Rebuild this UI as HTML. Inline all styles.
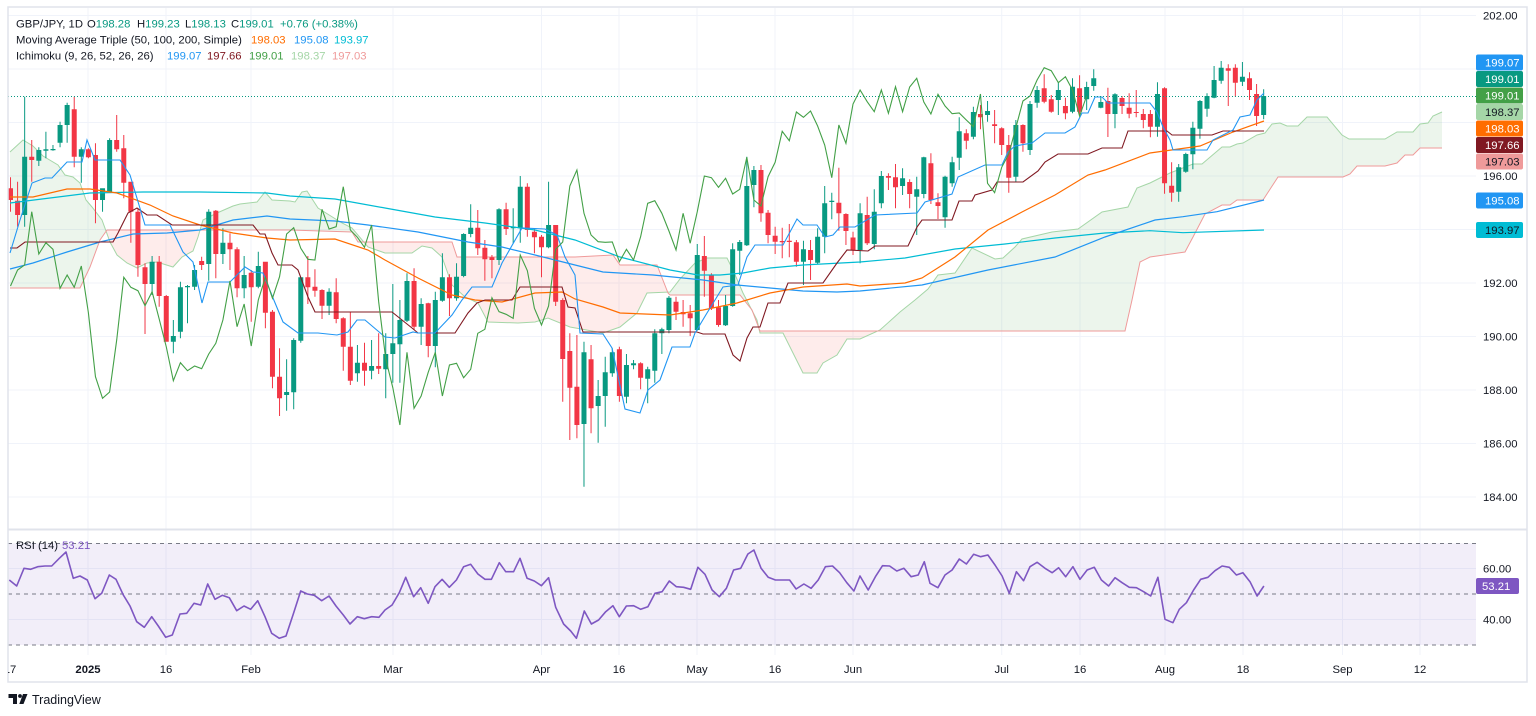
<!DOCTYPE html>
<html><head><meta charset="utf-8">
<style>
html,body{margin:0;padding:0;background:#fff;}
body{width:1536px;height:716px;overflow:hidden;}
svg{display:block;font-family:"Liberation Sans",Arial,sans-serif;}
.g{fill:#089981}.r{fill:#f23645}
</style></head><body>
<svg width="1536" height="716" viewBox="0 0 1536 716" xmlns="http://www.w3.org/2000/svg">
<defs>
<clipPath id="mainClip"><rect x="8" y="8" width="1468" height="521"/></clipPath>
<clipPath id="rsiClip"><rect x="8" y="530" width="1468" height="125"/></clipPath>
<clipPath id="axClip"><rect x="8" y="655" width="1468" height="27"/></clipPath>
<clipPath id="cB"><polygon points="10,288 80,288 90,267 100,240 107,230 290,230 352,232 358,242 452,242 457,257 575,257 613,255 620,265 657,265 668,293 670,295 740,295 752,310 760,331 1125,331 1132,300 1140,262 1150,257 1185,252 1193,237 1205,214 1222,205 1230,205 1237,200 1263,200 1278,177 1343,177 1350,174 1357,166 1385,166 1397,163 1405,155 1413,155 1420,148 1442,148 1442,0 10,0"/></clipPath>
<clipPath id="cA"><polygon points="10,152 23,140 33,146 43,156 58,165 65,175 73,177 80,183 86,200 92,207 102,220 110,242 117,255 127,263 137,268 147,263 157,262 173,267 182,257 193,251 198,237 203,220 217,213 233,206 240,204 257,202 265,192 272,200 290,201 295,202 302,192 307,191 318,208 342,223 352,228 368,247 385,253 412,253 422,246 432,248 442,257 452,285 465,297 478,303 488,322 518,323 535,322 548,318 570,327 603,333 620,327 637,313 647,293 670,292 680,279 695,263 707,258 727,258 733,270 743,293 757,320 760,333 783,333 803,373 817,373 823,363 837,355 847,339 860,339 880,330 900,312 915,300 928,289 938,275 955,273 972,248 995,259 1003,258 1015,247 1022,239 1052,232 1078,229 1102,212 1128,207 1137,188 1150,183 1170,173 1193,164 1202,164 1222,147 1230,147 1237,144 1243,143 1257,135 1265,133 1272,124 1280,123 1287,126 1298,126 1307,117 1327,117 1342,135 1349,139 1385,139 1397,132 1413,132 1420,124 1428,123 1433,116 1442,112 1442,0 10,0"/></clipPath>
</defs>
<rect x="0" y="0" width="1536" height="716" fill="#fff"/>

<!-- grid -->
<g stroke="#f0f3fa" stroke-width="1" fill="none">
<path d="M8 15.5H1476M8 69H1476M8 122.5H1476M8 176H1476M8 229.5H1476M8 283H1476M8 336.5H1476M8 390H1476M8 443.5H1476M8 497H1476"/>
<path d="M8 568.5H1476M8 619.5H1476"/>
<path d="M88 8V529M166 8V529M251 8V529M393 8V529M541.5 8V529M619 8V529M697 8V529M775 8V529M853 8V529M1001.7 8V529M1080 8V529M1165 8V529M1243 8V529M1342.5 8V529M1420 8V529"/>
<path d="M88 530V655M166 530V655M251 530V655M393 530V655M541.5 530V655M619 530V655M697 530V655M775 530V655M853 530V655M1001.7 530V655M1080 530V655M1165 530V655M1243 530V655M1342.5 530V655M1420 530V655"/>
</g>

<g clip-path="url(#mainClip)">
<!-- cloud -->
<polygon points="10,152 23,140 33,146 43,156 58,165 65,175 73,177 80,183 86,200 92,207 102,220 110,242 117,255 127,263 137,268 147,263 157,262 173,267 182,257 193,251 198,237 203,220 217,213 233,206 240,204 257,202 265,192 272,200 290,201 295,202 302,192 307,191 318,208 342,223 352,228 368,247 385,253 412,253 422,246 432,248 442,257 452,285 465,297 478,303 488,322 518,323 535,322 548,318 570,327 603,333 620,327 637,313 647,293 670,292 680,279 695,263 707,258 727,258 733,270 743,293 757,320 760,333 783,333 803,373 817,373 823,363 837,355 847,339 860,339 880,330 900,312 915,300 928,289 938,275 955,273 972,248 995,259 1003,258 1015,247 1022,239 1052,232 1078,229 1102,212 1128,207 1137,188 1150,183 1170,173 1193,164 1202,164 1222,147 1230,147 1237,144 1243,143 1257,135 1265,133 1272,124 1280,123 1287,126 1298,126 1307,117 1327,117 1342,135 1349,139 1385,139 1397,132 1413,132 1420,124 1428,123 1433,116 1442,112 1442,716 10,716" fill="rgba(67,160,71,0.1)" clip-path="url(#cB)"/>
<polygon points="10,288 80,288 90,267 100,240 107,230 290,230 352,232 358,242 452,242 457,257 575,257 613,255 620,265 657,265 668,293 670,295 740,295 752,310 760,331 1125,331 1132,300 1140,262 1150,257 1185,252 1193,237 1205,214 1222,205 1230,205 1237,200 1263,200 1278,177 1343,177 1350,174 1357,166 1385,166 1397,163 1405,155 1413,155 1420,148 1442,148 1442,716 10,716" fill="rgba(244,67,54,0.1)" clip-path="url(#cA)"/>
<polyline fill="none" stroke="#a5d6a7" stroke-width="1" points="10,152 23,140 33,146 43,156 58,165 65,175 73,177 80,183 86,200 92,207 102,220 110,242 117,255 127,263 137,268 147,263 157,262 173,267 182,257 193,251 198,237 203,220 217,213 233,206 240,204 257,202 265,192 272,200 290,201 295,202 302,192 307,191 318,208 342,223 352,228 368,247 385,253 412,253 422,246 432,248 442,257 452,285 465,297 478,303 488,322 518,323 535,322 548,318 570,327 603,333 620,327 637,313 647,293 670,292 680,279 695,263 707,258 727,258 733,270 743,293 757,320 760,333 783,333 803,373 817,373 823,363 837,355 847,339 860,339 880,330 900,312 915,300 928,289 938,275 955,273 972,248 995,259 1003,258 1015,247 1022,239 1052,232 1078,229 1102,212 1128,207 1137,188 1150,183 1170,173 1193,164 1202,164 1222,147 1230,147 1237,144 1243,143 1257,135 1265,133 1272,124 1280,123 1287,126 1298,126 1307,117 1327,117 1342,135 1349,139 1385,139 1397,132 1413,132 1420,124 1428,123 1433,116 1442,112"/>
<polyline fill="none" stroke="#ef9a9a" stroke-width="1" points="10,288 80,288 90,267 100,240 107,230 290,230 352,232 358,242 452,242 457,257 575,257 613,255 620,265 657,265 668,293 670,295 740,295 752,310 760,331 1125,331 1132,300 1140,262 1150,257 1185,252 1193,237 1205,214 1222,205 1230,205 1237,200 1263,200 1278,177 1343,177 1350,174 1357,166 1385,166 1397,163 1405,155 1413,155 1420,148 1442,148"/>

<!-- candles (index space) -->
<g transform="translate(10.5,0) scale(7.08,1)">
<path class="r" transform="translate(0)" d="M-.353 188.3H.353V200H-.353ZM-.07 177.3H.07V211.7H-.07Z"/>
<path class="r" transform="translate(1)" d="M-.353 200.7H.353V215H-.353ZM-.07 181.7H.07V226.7H-.07Z"/>
<path class="g" transform="translate(2)" d="M-.353 156.7H.353V215H-.353ZM-.07 96.7H.07V226.7H-.07Z"/>
<path class="r" transform="translate(3)" d="M-.353 156.7H.353V160H-.353ZM-.07 140H.07V181.7H-.07Z"/>
<path class="g" transform="translate(4)" d="M-.353 150H.353V160.7H-.353ZM-.07 147.3H.07V166H-.07Z"/>
<path class="g" transform="translate(5)" d="M-.353 149.3H.353V150.7H-.353ZM-.07 131.7H.07V158.3H-.07Z"/>
<path class="g" transform="translate(6)" d="M-.353 149H.353V150.2H-.353ZM-.07 145H.07V150.7H-.07Z"/>
<path class="g" transform="translate(7)" d="M-.353 125H.353V142.7H-.353ZM-.07 121.7H.07V147.3H-.07Z"/>
<path class="g" transform="translate(8)" d="M-.353 105H.353V125H-.353ZM-.07 102.7H.07V142.7H-.07Z"/>
<path class="r" transform="translate(9)" d="M-.353 109.3H.353V156.7H-.353ZM-.07 96.7H.07V167.3H-.07Z"/>
<path class="g" transform="translate(10)" d="M-.353 149.3H.353V156.7H-.353ZM-.07 147.3H.07V182.7H-.07Z"/>
<path class="r" transform="translate(11)" d="M-.353 149.3H.353V157.3H-.353ZM-.07 148.3H.07V158.3H-.07Z"/>
<path class="r" transform="translate(12)" d="M-.353 155H.353V200H-.353ZM-.07 143.3H.07V223.3H-.07Z"/>
<path class="g" transform="translate(13)" d="M-.353 188.3H.353V200H-.353ZM-.07 188.3H.07V211.7H-.07Z"/>
<path class="g" transform="translate(14)" d="M-.353 140H.353V192.7H-.353ZM-.07 138.3H.07V192.7H-.07Z"/>
<path class="r" transform="translate(15)" d="M-.353 140H.353V149.3H-.353ZM-.07 115H.07V151.7H-.07Z"/>
<path class="r" transform="translate(16)" d="M-.353 148.3H.353V182.7H-.353ZM-.07 135H.07V198.3H-.07Z"/>
<path class="r" transform="translate(17)" d="M-.353 181.7H.353V211.7H-.353ZM-.07 181.7H.07V242.7H-.07Z"/>
<path class="r" transform="translate(18)" d="M-.353 211.7H.353V265H-.353ZM-.07 208.3H.07V276.7H-.07Z"/>
<path class="r" transform="translate(19)" d="M-.353 267.3H.353V284H-.353ZM-.07 263.3H.07V334H-.07Z"/>
<path class="g" transform="translate(20)" d="M-.353 261.7H.353V284H-.353ZM-.07 256H.07V295H-.07Z"/>
<path class="r" transform="translate(21)" d="M-.353 261.7H.353V296H-.353ZM-.07 256H.07V306.7H-.07Z"/>
<path class="r" transform="translate(22)" d="M-.353 296H.353V341.7H-.353ZM-.07 295H.07V341.7H-.07Z"/>
<path class="g" transform="translate(23)" d="M-.353 336H.353V341.7H-.353ZM-.07 320H.07V353.3H-.07Z"/>
<path class="g" transform="translate(24)" d="M-.353 287.3H.353V331.7H-.353ZM-.07 281.7H.07V338.3H-.07Z"/>
<path class="g" transform="translate(25)" d="M-.353 286H.353V287.3H-.353ZM-.07 285H.07V323.3H-.07Z"/>
<path class="g" transform="translate(26)" d="M-.353 270H.353V286.7H-.353ZM-.07 265H.07V290H-.07Z"/>
<path class="r" transform="translate(27)" d="M-.353 261H.353V265H-.353ZM-.07 256.7H.07V270H-.07Z"/>
<path class="g" transform="translate(28)" d="M-.353 211.7H.353V264H-.353ZM-.07 209.3H.07V280.7H-.07Z"/>
<path class="r" transform="translate(29)" d="M-.353 210.7H.353V254H-.353ZM-.07 210H.07V278.3H-.07Z"/>
<path class="g" transform="translate(30)" d="M-.353 242.7H.353V254H-.353ZM-.07 228.3H.07V264H-.07Z"/>
<path class="r" transform="translate(31)" d="M-.353 242.7H.353V249.3H-.353ZM-.07 233.3H.07V270H-.07Z"/>
<path class="r" transform="translate(32)" d="M-.353 249.3H.353V288.3H-.353ZM-.07 247.3H.07V297.3H-.07Z"/>
<path class="g" transform="translate(33)" d="M-.353 275H.353V288.3H-.353ZM-.07 256H.07V298.3H-.07Z"/>
<path class="r" transform="translate(34)" d="M-.353 272.7H.353V287.3H-.353ZM-.07 270H.07V321.7H-.07Z"/>
<path class="g" transform="translate(35)" d="M-.353 266H.353V286.7H-.353ZM-.07 251.7H.07V288.3H-.07Z"/>
<path class="r" transform="translate(36)" d="M-.353 261.7H.353V312.7H-.353ZM-.07 261.7H.07V328.3H-.07Z"/>
<path class="r" transform="translate(37)" d="M-.353 311.7H.353V376.7H-.353ZM-.07 310H.07V388.3H-.07Z"/>
<path class="r" transform="translate(38)" d="M-.353 376.7H.353V398.3H-.353ZM-.07 348.3H.07V416H-.07Z"/>
<path class="g" transform="translate(39)" d="M-.353 392H.353V395H-.353ZM-.07 359.3H.07V410.7H-.07Z"/>
<path class="g" transform="translate(40)" d="M-.353 340H.353V392.3H-.353ZM-.07 338.3H.07V409.3H-.07Z"/>
<path class="g" transform="translate(41)" d="M-.353 277.3H.353V340.7H-.353ZM-.07 277.3H.07V342.7H-.07Z"/>
<path class="r" transform="translate(42)" d="M-.353 277.3H.353V287.3H-.353ZM-.07 256H.07V304H-.07Z"/>
<path class="r" transform="translate(43)" d="M-.353 286.7H.353V290.7H-.353ZM-.07 269.3H.07V296.7H-.07Z"/>
<path class="r" transform="translate(44)" d="M-.353 290H.353V305.7H-.353ZM-.07 289.3H.07V319H-.07Z"/>
<path class="g" transform="translate(45)" d="M-.353 291.7H.353V305.7H-.353ZM-.07 288.3H.07V315H-.07Z"/>
<path class="r" transform="translate(46)" d="M-.353 292.3H.353V319H-.353ZM-.07 278.3H.07V323.3H-.07Z"/>
<path class="r" transform="translate(47)" d="M-.353 318.3H.353V346.7H-.353ZM-.07 317.3H.07V370.7H-.07Z"/>
<path class="r" transform="translate(48)" d="M-.353 346.7H.353V380.7H-.353ZM-.07 311.7H.07V385H-.07Z"/>
<path class="g" transform="translate(49)" d="M-.353 362.7H.353V373.3H-.353ZM-.07 345H.07V381.7H-.07Z"/>
<path class="r" transform="translate(50)" d="M-.353 362.7H.353V370.7H-.353ZM-.07 342.7H.07V385.7H-.07Z"/>
<path class="g" transform="translate(51)" d="M-.353 366H.353V370.7H-.353ZM-.07 340H.07V379.3H-.07Z"/>
<path class="r" transform="translate(52)" d="M-.353 366H.353V368.7H-.353ZM-.07 333.3H.07V374H-.07Z"/>
<path class="g" transform="translate(53)" d="M-.353 354H.353V369.3H-.353ZM-.07 333.3H.07V398.3H-.07Z"/>
<path class="g" transform="translate(54)" d="M-.353 343.3H.353V354H-.353ZM-.07 284H.07V382.7H-.07Z"/>
<path class="g" transform="translate(55)" d="M-.353 320H.353V344.3H-.353ZM-.07 300H.07V382.7H-.07Z"/>
<path class="g" transform="translate(56)" d="M-.353 281H.353V320.7H-.353ZM-.07 273.3H.07V322H-.07Z"/>
<path class="r" transform="translate(57)" d="M-.353 281H.353V326.7H-.353ZM-.07 268.3H.07V330H-.07Z"/>
<path class="g" transform="translate(58)" d="M-.353 304H.353V326.7H-.353ZM-.07 298.3H.07V345H-.07Z"/>
<path class="r" transform="translate(59)" d="M-.353 303.3H.353V346H-.353ZM-.07 302.7H.07V357.3H-.07Z"/>
<path class="g" transform="translate(60)" d="M-.353 300H.353V346H-.353ZM-.07 291.7H.07V367.3H-.07Z"/>
<path class="g" transform="translate(61)" d="M-.353 277.3H.353V300.7H-.353ZM-.07 253.3H.07V301.7H-.07Z"/>
<path class="r" transform="translate(62)" d="M-.353 277.3H.353V298.3H-.353ZM-.07 274.3H.07V316H-.07Z"/>
<path class="g" transform="translate(63)" d="M-.353 276.7H.353V298.3H-.353ZM-.07 263.3H.07V300.7H-.07Z"/>
<path class="g" transform="translate(64)" d="M-.353 234H.353V276H-.353ZM-.07 233.3H.07V277.3H-.07Z"/>
<path class="g" transform="translate(65)" d="M-.353 227.7H.353V234H-.353ZM-.07 204.3H.07V237.3H-.07Z"/>
<path class="r" transform="translate(66)" d="M-.353 227.7H.353V248.3H-.353ZM-.07 210H.07V255H-.07Z"/>
<path class="r" transform="translate(67)" d="M-.353 247.7H.353V259.3H-.353ZM-.07 240H.07V280.7H-.07Z"/>
<path class="r" transform="translate(68)" d="M-.353 257.3H.353V260H-.353ZM-.07 255H.07V278.3H-.07Z"/>
<path class="g" transform="translate(69)" d="M-.353 209.3H.353V260H-.353ZM-.07 208.3H.07V265H-.07Z"/>
<path class="r" transform="translate(70)" d="M-.353 209.3H.353V229H-.353ZM-.07 202.7H.07V235H-.07Z"/>
<path class="g" transform="translate(71)" d="M-.353 226.7H.353V228.3H-.353ZM-.07 208.3H.07V243.3H-.07Z"/>
<path class="g" transform="translate(72)" d="M-.353 186.7H.353V228.3H-.353ZM-.07 176H.07V242.7H-.07Z"/>
<path class="r" transform="translate(73)" d="M-.353 186.7H.353V230H-.353ZM-.07 183.3H.07V236.7H-.07Z"/>
<path class="r" transform="translate(74)" d="M-.353 231.7H.353V237.3H-.353ZM-.07 228.3H.07V253.3H-.07Z"/>
<path class="r" transform="translate(75)" d="M-.353 236.7H.353V247.3H-.353ZM-.07 235H.07V277.3H-.07Z"/>
<path class="g" transform="translate(76)" d="M-.353 225H.353V247.3H-.353ZM-.07 181.7H.07V248.3H-.07Z"/>
<path class="r" transform="translate(77)" d="M-.353 225H.353V301.7H-.353ZM-.07 225H.07V306H-.07Z"/>
<path class="r" transform="translate(78)" d="M-.353 300H.353V359H-.353ZM-.07 298.3H.07V401.7H-.07Z"/>
<path class="r" transform="translate(79)" d="M-.353 351H.353V387.7H-.353ZM-.07 333.3H.07V440H-.07Z"/>
<path class="r" transform="translate(80)" d="M-.353 386.7H.353V425H-.353ZM-.07 335H.07V438.3H-.07Z"/>
<path class="g" transform="translate(81)" d="M-.353 352.3H.353V424H-.353ZM-.07 341.7H.07V486.7H-.07Z"/>
<path class="r" transform="translate(82)" d="M-.353 359.3H.353V408.3H-.353ZM-.07 345H.07V433.3H-.07Z"/>
<path class="g" transform="translate(83)" d="M-.353 396H.353V406H-.353ZM-.07 380H.07V442.7H-.07Z"/>
<path class="g" transform="translate(84)" d="M-.353 372.3H.353V396H-.353ZM-.07 356.7H.07V426.7H-.07Z"/>
<path class="g" transform="translate(85)" d="M-.353 352.3H.353V373.3H-.353ZM-.07 348.3H.07V376.7H-.07Z"/>
<path class="r" transform="translate(86)" d="M-.353 349.3H.353V396H-.353ZM-.07 346.7H.07V401.7H-.07Z"/>
<path class="g" transform="translate(87)" d="M-.353 365H.353V396.7H-.353ZM-.07 354H.07V403.3H-.07Z"/>
<path class="g" transform="translate(88)" d="M-.353 363.3H.353V365.3H-.353ZM-.07 360H.07V369.3H-.07Z"/>
<path class="r" transform="translate(89)" d="M-.353 363.3H.353V377.7H-.353ZM-.07 362.3H.07V389.3H-.07Z"/>
<path class="g" transform="translate(90)" d="M-.353 369.3H.353V378.7H-.353ZM-.07 366.7H.07V403.3H-.07Z"/>
<path class="g" transform="translate(91)" d="M-.353 333.3H.353V370.7H-.353ZM-.07 329.3H.07V382.7H-.07Z"/>
<path class="g" transform="translate(92)" d="M-.353 329.3H.353V333.3H-.353ZM-.07 327.7H.07V354H-.07Z"/>
<path class="g" transform="translate(93)" d="M-.353 297.7H.353V330H-.353ZM-.07 296H.07V333.3H-.07Z"/>
<path class="r" transform="translate(94)" d="M-.353 301.7H.353V311.7H-.353ZM-.07 296.7H.07V320H-.07Z"/>
<path class="r" transform="translate(95)" d="M-.353 312H.353V314.3H-.353ZM-.07 300H.07V326.7H-.07Z"/>
<path class="r" transform="translate(96)" d="M-.353 313.3H.353V318.3H-.353ZM-.07 305H.07V336H-.07Z"/>
<path class="g" transform="translate(97)" d="M-.353 255H.353V330H-.353ZM-.07 244H.07V330.7H-.07Z"/>
<path class="r" transform="translate(98)" d="M-.353 256H.353V270.7H-.353ZM-.07 236H.07V296.7H-.07Z"/>
<path class="r" transform="translate(99)" d="M-.353 275H.353V308.3H-.353ZM-.07 273.3H.07V310H-.07Z"/>
<path class="r" transform="translate(100)" d="M-.353 307.3H.353V325H-.353ZM-.07 300H.07V326.7H-.07Z"/>
<path class="g" transform="translate(101)" d="M-.353 306H.353V325.3H-.353ZM-.07 295H.07V326H-.07Z"/>
<path class="g" transform="translate(102)" d="M-.353 249.3H.353V306H-.353ZM-.07 243.3H.07V306.7H-.07Z"/>
<path class="g" transform="translate(103)" d="M-.353 242H.353V250.7H-.353ZM-.07 240H.07V275H-.07Z"/>
<path class="g" transform="translate(104)" d="M-.353 186H.353V245.3H-.353ZM-.07 156.7H.07V246H-.07Z"/>
<path class="g" transform="translate(105)" d="M-.353 170H.353V185H-.353ZM-.07 166H.07V207.3H-.07Z"/>
<path class="r" transform="translate(106)" d="M-.353 170H.353V213.3H-.353ZM-.07 165H.07V221.7H-.07Z"/>
<path class="r" transform="translate(107)" d="M-.353 212.7H.353V235H-.353ZM-.07 210H.07V243.3H-.07Z"/>
<path class="r" transform="translate(108)" d="M-.353 235.7H.353V241.7H-.353ZM-.07 226.7H.07V254H-.07Z"/>
<path class="r" transform="translate(109)" d="M-.353 241H.353V242.3H-.353ZM-.07 227.7H.07V258.3H-.07Z"/>
<path class="r" transform="translate(110)" d="M-.353 240.7H.353V242H-.353ZM-.07 224H.07V257.3H-.07Z"/>
<path class="r" transform="translate(111)" d="M-.353 242.3H.353V261.7H-.353ZM-.07 240H.07V266.7H-.07Z"/>
<path class="g" transform="translate(112)" d="M-.353 249.3H.353V261.7H-.353ZM-.07 240.7H.07V285H-.07Z"/>
<path class="r" transform="translate(113)" d="M-.353 250H.353V260H-.353ZM-.07 240H.07V280H-.07Z"/>
<path class="g" transform="translate(114)" d="M-.353 236.7H.353V262.7H-.353ZM-.07 228.3H.07V264.3H-.07Z"/>
<path class="g" transform="translate(115)" d="M-.353 203.3H.353V236.7H-.353ZM-.07 186H.07V253.3H-.07Z"/>
<path class="g" transform="translate(116)" d="M-.353 200.7H.353V202H-.353ZM-.07 192.7H.07V219.3H-.07Z"/>
<path class="r" transform="translate(117)" d="M-.353 202.7H.353V213.3H-.353ZM-.07 167.7H.07V230.7H-.07Z"/>
<path class="r" transform="translate(118)" d="M-.353 214H.353V231H-.353ZM-.07 213.3H.07V245H-.07Z"/>
<path class="r" transform="translate(119)" d="M-.353 237.5H.353V250H-.353ZM-.07 231.7H.07V255H-.07Z"/>
<path class="g" transform="translate(120)" d="M-.353 213.3H.353V250H-.353ZM-.07 203.3H.07V263.3H-.07Z"/>
<path class="r" transform="translate(121)" d="M-.353 215H.353V243.3H-.353ZM-.07 196.7H.07V245H-.07Z"/>
<path class="g" transform="translate(122)" d="M-.353 211.7H.353V244H-.353ZM-.07 189.3H.07V249.3H-.07Z"/>
<path class="g" transform="translate(123)" d="M-.353 176H.353V203.3H-.353ZM-.07 171H.07V208.3H-.07Z"/>
<path class="r" transform="translate(124)" d="M-.353 176H.353V177.7H-.353ZM-.07 173.3H.07V190H-.07Z"/>
<path class="r" transform="translate(125)" d="M-.353 177.3H.353V187.3H-.353ZM-.07 164H.07V208.3H-.07Z"/>
<path class="g" transform="translate(126)" d="M-.353 178.3H.353V186H-.353ZM-.07 168.3H.07V195H-.07Z"/>
<path class="r" transform="translate(127)" d="M-.353 182H.353V194H-.353ZM-.07 179.3H.07V208.3H-.07Z"/>
<path class="g" transform="translate(128)" d="M-.353 189.3H.353V196.7H-.353ZM-.07 176.7H.07V235H-.07Z"/>
<path class="g" transform="translate(129)" d="M-.353 157.3H.353V194H-.353ZM-.07 156.7H.07V198.3H-.07Z"/>
<path class="r" transform="translate(130)" d="M-.353 163.3H.353V200H-.353ZM-.07 153.3H.07V204H-.07Z"/>
<path class="r" transform="translate(131)" d="M-.353 202.3H.353V206H-.353ZM-.07 193.3H.07V219H-.07Z"/>
<path class="g" transform="translate(132)" d="M-.353 176.7H.353V217.3H-.353ZM-.07 175.7H.07V227.7H-.07Z"/>
<path class="g" transform="translate(133)" d="M-.353 162.3H.353V183.3H-.353ZM-.07 156.7H.07V186.7H-.07Z"/>
<path class="g" transform="translate(134)" d="M-.353 131.3H.353V157.7H-.353ZM-.07 117.3H.07V170H-.07Z"/>
<path class="r" transform="translate(135)" d="M-.353 133.3H.353V140.7H-.353ZM-.07 129.3H.07V149.3H-.07Z"/>
<path class="g" transform="translate(136)" d="M-.353 112H.353V136.7H-.353ZM-.07 106.7H.07V139.3H-.07Z"/>
<path class="r" transform="translate(137)" d="M-.353 114H.353V117.3H-.353ZM-.07 105H.07V129.3H-.07Z"/>
<path class="g" transform="translate(138)" d="M-.353 111H.353V115H-.353ZM-.07 101H.07V121.7H-.07Z"/>
<path class="r" transform="translate(139)" d="M-.353 124.3H.353V126H-.353ZM-.07 110H.07V143.3H-.07Z"/>
<path class="r" transform="translate(140)" d="M-.353 128.3H.353V145H-.353ZM-.07 127.3H.07V155H-.07Z"/>
<path class="r" transform="translate(141)" d="M-.353 145H.353V177.7H-.353ZM-.07 135H.07V192.7H-.07Z"/>
<path class="g" transform="translate(142)" d="M-.353 125H.353V176.7H-.353ZM-.07 120H.07V181.7H-.07Z"/>
<path class="r" transform="translate(143)" d="M-.353 125H.353V143.3H-.353ZM-.07 124.3H.07V151.7H-.07Z"/>
<path class="g" transform="translate(144)" d="M-.353 104H.353V150H-.353ZM-.07 101H.07V155H-.07Z"/>
<path class="g" transform="translate(145)" d="M-.353 90H.353V102.7H-.353ZM-.07 86H.07V107.7H-.07Z"/>
<path class="r" transform="translate(146)" d="M-.353 88.3H.353V101.7H-.353ZM-.07 74.3H.07V103.3H-.07Z"/>
<path class="r" transform="translate(147)" d="M-.353 99.3H.353V111.7H-.353ZM-.07 95H.07V112.7H-.07Z"/>
<path class="g" transform="translate(148)" d="M-.353 90H.353V100H-.353ZM-.07 82.7H.07V115H-.07Z"/>
<path class="r" transform="translate(149)" d="M-.353 106H.353V113.3H-.353ZM-.07 97.7H.07V119.3H-.07Z"/>
<path class="g" transform="translate(150)" d="M-.353 86.7H.353V111.7H-.353ZM-.07 78.3H.07V113.3H-.07Z"/>
<path class="r" transform="translate(151)" d="M-.353 88.3H.353V111.7H-.353ZM-.07 75.3H.07V114.7H-.07Z"/>
<path class="g" transform="translate(152)" d="M-.353 87H.353V99.3H-.353ZM-.07 81.7H.07V110H-.07Z"/>
<path class="g" transform="translate(153)" d="M-.353 78.3H.353V86H-.353ZM-.07 69.3H.07V90.7H-.07Z"/>
<path class="g" transform="translate(154)" d="M-.353 102H.353V107.7H-.353ZM-.07 97.3H.07V108.3H-.07Z"/>
<path class="r" transform="translate(155)" d="M-.353 101H.353V114H-.353ZM-.07 87.7H.07V137H-.07Z"/>
<path class="g" transform="translate(156)" d="M-.353 94.3H.353V114H-.353ZM-.07 93.3H.07V128.3H-.07Z"/>
<path class="r" transform="translate(157)" d="M-.353 98H.353V106H-.353ZM-.07 96H.07V114H-.07Z"/>
<path class="r" transform="translate(158)" d="M-.353 107.7H.353V113.7H-.353ZM-.07 93.3H.07V118.3H-.07Z"/>
<path class="r" transform="translate(159)" d="M-.353 112H.353V113H-.353ZM-.07 90H.07V117.3H-.07Z"/>
<path class="r" transform="translate(160)" d="M-.353 114H.353V120H-.353ZM-.07 109H.07V128.3H-.07Z"/>
<path class="r" transform="translate(161)" d="M-.353 114H.353V126.7H-.353ZM-.07 110H.07V137.3H-.07Z"/>
<path class="g" transform="translate(162)" d="M-.353 94H.353V126.7H-.353ZM-.07 82.3H.07V136.7H-.07Z"/>
<path class="r" transform="translate(163)" d="M-.353 88.3H.353V183.3H-.353ZM-.07 87.3H.07V193.7H-.07Z"/>
<path class="r" transform="translate(164)" d="M-.353 185.7H.353V192.7H-.353ZM-.07 162.3H.07V201.7H-.07Z"/>
<path class="g" transform="translate(165)" d="M-.353 167.3H.353V191.7H-.353ZM-.07 164H.07V201.7H-.07Z"/>
<path class="g" transform="translate(166)" d="M-.353 154H.353V171.7H-.353ZM-.07 152.7H.07V172.7H-.07Z"/>
<path class="g" transform="translate(167)" d="M-.353 127.7H.353V154.3H-.353ZM-.07 121.7H.07V169.3H-.07Z"/>
<path class="g" transform="translate(168)" d="M-.353 101H.353V128.7H-.353ZM-.07 100H.07V138.7H-.07Z"/>
<path class="g" transform="translate(169)" d="M-.353 96H.353V108.7H-.353ZM-.07 93.3H.07V116.7H-.07Z"/>
<path class="g" transform="translate(170)" d="M-.353 80H.353V97.7H-.353ZM-.07 66H.07V98.3H-.07Z"/>
<path class="g" transform="translate(171)" d="M-.353 67.7H.353V80.7H-.353ZM-.07 61H.07V83.7H-.07Z"/>
<path class="r" transform="translate(172)" d="M-.353 68.3H.353V70.7H-.353ZM-.07 64.3H.07V106H-.07Z"/>
<path class="r" transform="translate(173)" d="M-.353 67.7H.353V82.7H-.353ZM-.07 64.3H.07V96.7H-.07Z"/>
<path class="g" transform="translate(174)" d="M-.353 76.7H.353V81.7H-.353ZM-.07 62H.07V86H-.07Z"/>
<path class="r" transform="translate(175)" d="M-.353 78.3H.353V90H-.353ZM-.07 72.3H.07V100H-.07Z"/>
<path class="r" transform="translate(176)" d="M-.353 94H.353V116H-.353ZM-.07 84H.07V126H-.07Z"/>
<path class="g" transform="translate(177)" d="M-.353 96H.353V115H-.353ZM-.07 89.3H.07V119.3H-.07Z"/>
</g>

<!-- moving averages -->
<polyline fill="none" stroke="#00bcd4" stroke-width="1.2" points="10,203 90,193 143,192 200,192 267,193 290,196 335,199 385,208 435,217 485,223 535,230 575,240 620,257 670,270 698,275 720,275 743,273 770,268 803,265 860,262 905,258 955,249 1005,244 1055,238 1105,233 1150,230.7 1183,232.7 1264,230"/>
<polyline fill="none" stroke="#2196f3" stroke-width="1.2" points="10,269 33,263 67,252 100,242 133,234 167,233 200,230 233,220 267,216 290,219 335,221 368,225 418,232 468,242 502,247 535,255 575,265 603,272 653,275 703,280 737,285 770,288 803,291 837,292 860,291 922,285 988,270 1055,257 1105,237 1155,220 1183,216.7 1217,211.7 1264,200"/>
<polyline fill="none" stroke="#ff6d00" stroke-width="1.2" points="10,197 33,197 67,189 90,189 117,193 150,205 173,216 200,225 233,233 267,238 290,240 335,239 368,250 385,260 418,278 452,295 475,300 502,302 535,293 562,292 575,299 603,307 620,313 670,315 703,310 737,303 770,293 803,287 847,284 860,286 905,283 922,278 955,257 988,230 1022,212 1055,195 1088,175 1105,170 1150,153 1200,146 1233,132 1264,121"/>

<!-- Ichimoku base / conversion -->
<polyline fill="none" stroke="#801922" stroke-width="1.1" points="10,248 17,248 25,242 113,242 118,233 128,213 137,208 147,215 157,215 172,225 253,225 260,234 265,234 272,253 278,265 292,265 298,270 308,297 315,312 392,312 412,328 418,333 455,333 468,313 477,303 485,300 512,300 520,287 562,287 568,307 575,308 583,332 697,332 703,334 725,334 733,355 740,361 747,338 753,327 760,327 768,303 780,303 788,283 823,283 837,263 847,250 868,251 875,246 908,246 917,227 922,220 952,220 959,201 972,201 975,195 992,190 997,182 1023,182 1038,171 1045,162 1058,154 1088,154 1102,148 1122,148 1128,131 1167,131 1172,135 1212,135 1223,131 1264,131"/>
<polyline fill="none" stroke="#2196f3" stroke-width="1.1" points="10,253 20,220 32,183 45,178 52,178 67,162 82,162 87,140 95,160 120,160 130,175 145,225 170,225 183,252 193,262 202,303 208,282 230,282 245,267 253,272 263,273 273,298 283,322 298,333 318,333 337,335 348,332 357,320 365,320 385,337 395,338 413,332 418,333 435,333 452,315 462,300 472,287 492,287 502,263 522,228 545,229 557,235 565,257 575,275 580,333 603,334 612,348 625,409 640,413 648,390 660,380 672,347 690,347 695,333 707,313 723,287 738,285 747,257 755,245 783,245 797,219 803,225 817,225 825,237 833,235 840,227 855,227 875,215 917,213 925,202 952,194 958,177 985,165 1002,165 1008,152 1015,146 1032,143 1045,133 1065,133 1075,127 1082,113 1088,113 1095,97 1102,97 1108,103 1150,103 1157,112 1163,127 1170,140 1173,150 1207,150 1213,140 1233,130 1240,117 1250,115 1257,100 1264,93"/>

<!-- lagging span (index space) -->
<g transform="translate(10.5,0) scale(7.08,1)">
<polyline fill="none" stroke="#43a047" stroke-width="1.1" vector-effect="non-scaling-stroke" points="0,286 1,270 2,265 3,211.7 4,254 5,242.7 6,249.3 7,288.3 8,275 9,287.3 10,266 11,312.7 12,376.7 13,398.3 14,392 15,340 16,277.3 17,287.3 18,290.7 19,305.7 20,291.7 21,319 22,346.7 23,380.7 24,362.7 25,370.7 26,366 27,368.7 28,354 29,343.3 30,320 31,281 32,326.7 33,304 34,346 35,300 36,277.3 37,298.3 38,276.7 39,234 40,227.7 41,248.3 42,259.3 43,260 44,209.3 45,229 46,226.7 47,186.7 48,230 49,237.3 50,247.3 51,225 52,301.7 53,359 54,387.7 55,425 56,352.3 57,408.3 58,396 59,372.3 60,352.3 61,396 62,365 63,363.3 64,377.7 65,369.3 66,333.3 67,329.3 68,297.7 69,311.7 70,314.3 71,318.3 72,255 73,270.7 74,308.3 75,325 76,306 77,249.3 78,242 79,186 80,170 81,213.3 82,235 83,241.7 84,242.3 85,242 86,261.7 87,249.3 88,260 89,236.7 90,203.3 91,200.7 92,213.3 93,231 94,250 95,213.3 96,243.3 97,211.7 98,176 99,177.7 100,187.3 101,178.3 102,194 103,189.3 104,157.3 105,200 106,206 107,176.7 108,162.3 109,131.3 110,140.7 111,112 112,117.3 113,111 114,126 115,145 116,177.7 117,125 118,143.3 119,104 120,90 121,101.7 122,111.7 123,90 124,113.3 125,86.7 126,111.7 127,87 128,78.3 129,102 130,114 131,94.3 132,106 133,113.7 134,113 135,120 136,126.7 137,94 138,183.3 139,192.7 140,167.3 141,154 142,127.7 143,101 144,96 145,80 146,67.7 147,70.7 148,82.7 149,76.7 150,90 151,116 152,96"/>
</g>

<!-- last price line -->
<path d="M8 96.5H1476" stroke="#089981" stroke-width="1" stroke-dasharray="1,2"/>
</g>

<!-- RSI pane -->
<g clip-path="url(#rsiClip)">
<rect x="8" y="543.5" width="1468" height="101.5" fill="rgba(126,87,194,0.1)"/>
<g stroke="#787b86" stroke-width="1" stroke-dasharray="4,4" fill="none">
<path d="M8 543.5H1476M8 594H1476M8 645H1476"/>
</g>
<polyline fill="none" stroke="#7e57c2" stroke-width="1.6" stroke-linejoin="round" points="9.3,580 16.7,586 24,568.3 30.7,569.3 37.7,566.7 45,566 51.7,566 59.3,558.3 66,552 73.3,578.3 80,576 87.3,580 95,598.7 101.7,593.3 109.3,575 116,579.3 123.3,595 130,606 136.7,621.7 144.3,627.3 151.7,616.7 158.3,626 165.7,637.3 172.3,635 180,614 186.7,613.3 194,603.3 200.7,605 207.7,584 215,599.3 222.3,595.3 229.3,597.7 236.7,610.7 244,606 250.7,609.3 257.7,600.7 265,616.7 271.7,633.3 279.3,638.3 286,636 293.3,614 300.7,591 307.3,594 314.3,595.3 321.7,600.7 329,596 336,606 343.3,615 350,624 357.3,616.7 364.3,618.7 371.7,616.7 379,617.3 385,610 392.1,605 399.3,592.7 405.7,577.3 413.6,596.7 420.7,587.7 428.2,603.3 435,586.7 442.1,579.3 449.3,587.3 456.4,580 463.6,566.7 470.7,564.3 477.9,574 485,579.3 491.4,579.3 499.3,562.7 505.7,571.7 513.6,571.7 520,558.3 527.1,578.3 534.3,581 541.4,585.7 548.6,577.7 555.7,607.3 563.6,624 570.7,631 576.4,638.3 584.3,611 591.4,624 598.6,620 605.7,611.7 612.9,605.7 619.3,616.7 626.4,606 633.6,605.7 640.7,609.3 647.9,606.7 655,593.3 662.1,591.7 669.3,581 676.4,586.7 683.6,587.3 690.7,589.3 697.9,567.3 705,574.3 712.1,590 719.3,596.7 726.4,588.3 733.6,570 740.7,568.3 747.9,554 753.9,550 761.1,568.3 768.2,577.3 775.4,580 782.5,580 789.6,580 796.1,589 803.9,584 811.1,588.3 818.2,580 825.4,566.7 832.5,566 839.6,572.7 846.8,582.7 853.9,591 860,576 868.2,590 875.4,576.7 882.5,565.7 889.6,566 896.8,571 903.9,568.3 911.1,576.7 918.2,575 924.3,561.7 930,583.3 937.9,587.7 945,575 952.1,570 959.3,559 966.4,564 973.6,554.3 980.7,556.7 987.9,555 995,565 1002.1,576 1009.3,593.3 1016.4,571.7 1023.6,580.7 1030,566.7 1037.1,562.3 1045,568.3 1052.1,572.7 1058.6,567.7 1065.7,576.7 1072.9,566.7 1080,579.3 1087.1,570 1094.3,567.3 1101.4,580 1108.6,586 1115,577.7 1122.1,582.7 1129.3,587.3 1136.4,587.7 1143.6,591.7 1150.7,596 1157.9,577.3 1165,619.3 1172.9,622.7 1179.3,609.3 1186.4,602.7 1193.6,590 1200.7,579.3 1207.9,577.3 1215,570.7 1222.1,566 1229.3,567.3 1236.4,575 1242.9,572.7 1250,581.7 1257.1,596 1263.9,586"/>
</g>

<!-- frame & separators -->
<rect x="8" y="7" width="1519" height="675" fill="none" stroke="#e0e3eb" stroke-width="1.5"/>
<path d="M8 529.5H1527" stroke="#e0e3eb" stroke-width="2"/>

<!-- legend -->
<g font-size="11.3" fill="#131722">
<text x="16" y="27.5">GBP/JPY, 1D</text>
<text x="87" y="27.5">O<tspan fill="#089981">198.28</tspan></text>
<text x="137" y="27.5">H<tspan fill="#089981">199.23</tspan></text>
<text x="185" y="27.5">L<tspan fill="#089981">198.13</tspan></text>
<text x="231" y="27.5">C<tspan fill="#089981">199.01</tspan></text>
<text x="280" y="27.5" fill="#089981">+0.76 (+0.38%)</text>
<text x="16" y="43.5">Moving Average Triple (50, 100, 200, Simple)</text>
<text x="251" y="43.5" fill="#ff6d00">198.03</text>
<text x="294" y="43.5" fill="#2196f3">195.08</text>
<text x="334" y="43.5" fill="#00bcd4">193.97</text>
<text x="16" y="59.5">Ichimoku (9, 26, 52, 26, 26)</text>
<text x="167" y="59.5" fill="#2196f3">199.07</text>
<text x="207" y="59.5" fill="#801922">197.66</text>
<text x="249" y="59.5" fill="#43a047">199.01</text>
<text x="291" y="59.5" fill="#a5d6a7">198.37</text>
<text x="332" y="59.5" fill="#ef9a9a">197.03</text>
<text x="16" y="549">RSI (14)</text>
<text x="62" y="549" fill="#7e57c2">53.21</text>
</g>

<!-- price axis labels -->
<g font-size="11.3" fill="#131722">
<text x="1483" y="19.5">202.00</text>
<text x="1483" y="180">196.00</text>
<text x="1483" y="287">192.00</text>
<text x="1483" y="340.5">190.00</text>
<text x="1483" y="394">188.00</text>
<text x="1483" y="447.5">186.00</text>
<text x="1483" y="501">184.00</text>
<text x="1483" y="572.5">60.00</text>
<text x="1483" y="623.5">40.00</text>
</g>

<!-- badges -->
<g font-size="11.3">
<rect x="1476" y="54.5" width="47" height="16" rx="2" fill="#2196f3"/><text x="1485" y="66.5" fill="#fff">199.07</text>
<rect x="1476" y="71" width="47" height="16" rx="2" fill="#089981"/><text x="1485" y="83" fill="#fff">199.01</text>
<rect x="1476" y="87.5" width="47" height="16" rx="2" fill="#43a047"/><text x="1485" y="99.5" fill="#fff">199.01</text>
<rect x="1476" y="104" width="47" height="16" rx="2" fill="#a5d6a7"/><text x="1485" y="116" fill="#131722">198.37</text>
<rect x="1476" y="120.5" width="47" height="16" rx="2" fill="#ff6d00"/><text x="1485" y="132.5" fill="#fff">198.03</text>
<rect x="1476" y="137" width="47" height="16" rx="2" fill="#801922"/><text x="1485" y="149" fill="#fff">197.66</text>
<rect x="1476" y="153.5" width="47" height="16" rx="2" fill="#ef9a9a"/><text x="1485" y="165.5" fill="#131722">197.03</text>
<rect x="1476" y="192.5" width="47" height="16" rx="2" fill="#2196f3"/><text x="1485" y="204.5" fill="#fff">195.08</text>
<rect x="1476" y="222" width="47" height="16" rx="2" fill="#00bcd4"/><text x="1485" y="234" fill="#131722">193.97</text>
<rect x="1476" y="578" width="43" height="16" rx="2" fill="#7e57c2"/><text x="1482" y="590" fill="#fff">53.21</text>
</g>

<!-- time axis -->
<g font-size="11.3" fill="#131722" text-anchor="middle" clip-path="url(#axClip)">
<text x="10" y="673">17</text>
<text x="88" y="673" font-weight="bold">2025</text>
<text x="166" y="673">16</text>
<text x="251" y="673">Feb</text>
<text x="393" y="673">Mar</text>
<text x="541.5" y="673">Apr</text>
<text x="619" y="673">16</text>
<text x="697" y="673">May</text>
<text x="775" y="673">16</text>
<text x="853" y="673">Jun</text>
<text x="1001.7" y="673">Jul</text>
<text x="1080" y="673">16</text>
<text x="1165" y="673">Aug</text>
<text x="1243" y="673">18</text>
<text x="1342.5" y="673">Sep</text>
<text x="1420" y="673">12</text>
</g>

<!-- TradingView logo -->
<g fill="#131722">
<path d="M8.5 694H17V704H13V698H8.5Z"/>
<circle cx="20" cy="696" r="1.9"/>
<path d="M23 694H27.5L23.5 704H19.3Z"/>
<text x="32" y="704" font-size="12.5">TradingView</text>
</g>
</svg>
</body></html>
